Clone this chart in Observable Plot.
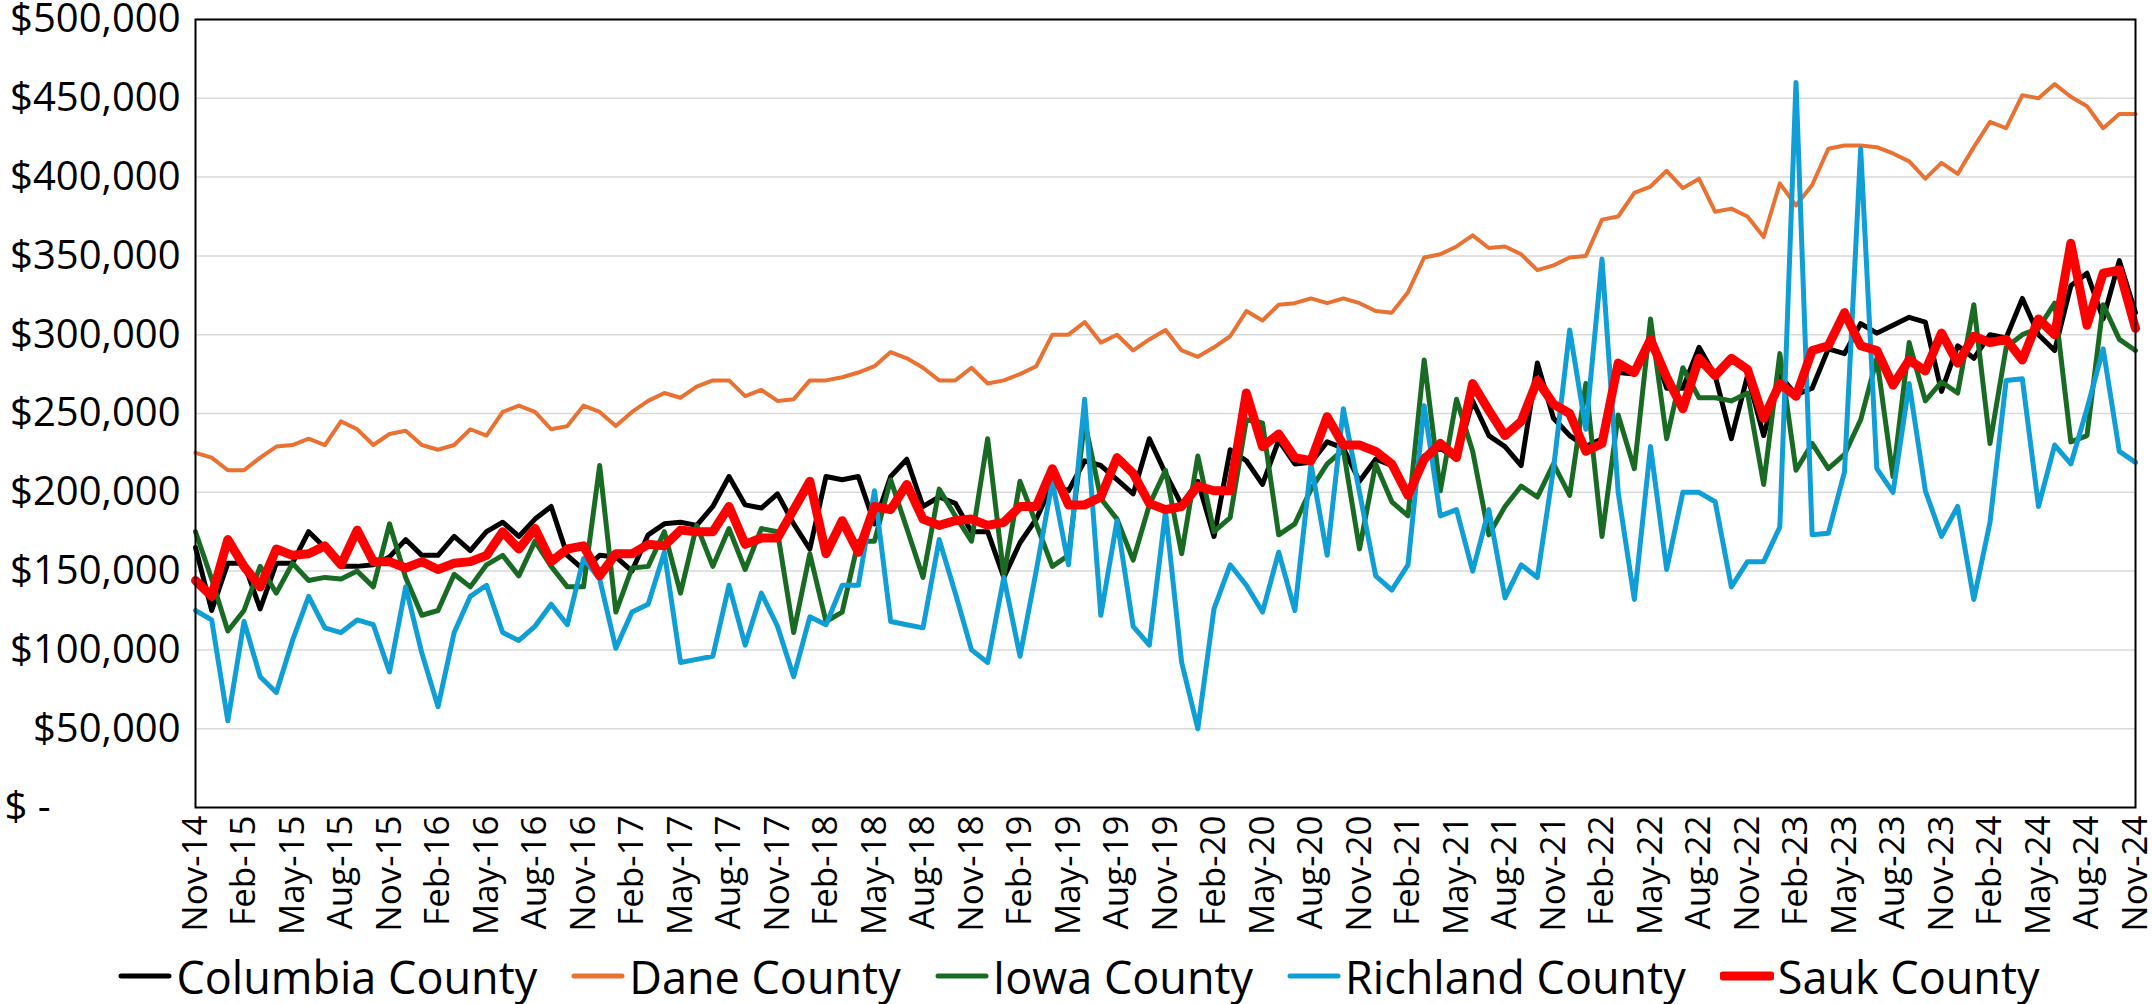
<!DOCTYPE html>
<html>
<head>
<meta charset="utf-8">
<script src="https://cdn.jsdelivr.net/npm/d3@7"></script>
<script src="https://cdn.jsdelivr.net/npm/@observablehq/plot@0.6"></script>
<style>
  html, body { margin: 0; padding: 0; background: #fff; }
  body { width: 2152px; height: 1004px; overflow: hidden; font-family: "Open Sans", "Liberation Sans", sans-serif; }
  #chart svg { overflow: visible; }
  #legend { display: flex; justify-content: center; align-items: center; height: 56px; gap: 34px; font-size: 45px; color: #000; padding-left: 6px; }
  .item { display: flex; align-items: center; gap: 4px; }
</style>
</head>
<body>
<div id="chart"></div>
<div id="legend"></div>
<script>
// Median sale price by month, Nov-14 .. Nov-24 (values in thousands of dollars)
const firstMonth = [2014, 10]; // Nov 2014 (UTC year, month index)
const seriesNames = ["Columbia County", "Dane County", "Iowa County", "Richland County", "Sauk County"];
const seriesColors = ["#000000", "#E97132", "#196B24", "#0F9ED5", "#FF0000"];
const seriesWidths = [5, 4, 5, 5, 9];

const columbia = [165,125,155,155,126,155,155,175,165,153,153,154,159,170,160,160,172,163,175,181,172,183,191,160,151,160,159,150,173,180,181,179,191,210,192,190,199,180,164,210,208,210,180,210,221,191,197,193,175,175,146,168,183,205,201,220,217,208,199,234,212,192,207,172,227,220,205,233,218,219,232,228,207,221,217,199,223,228,221,258,236,229,217,282,247,236,229,234,276,275,297,266,266,292,274,234,274,236,274,262,266,291,288,307,301,306,311,308,264,293,285,300,298,323,300,290,331,339,310,347,314];
const dane = [225,222,214,214,222,229,230,234,230,245,240,230,237,239,230,227,230,240,236,251,255,251,240,242,255,251,242,251,258,263,260,267,271,271,261,265,258,259,271,271,273,276,280,289,285,279,271,271,279,269,271,275,280,300,300,308,295,300,290,297,303,290,286,292,299,315,309,319,320,323,320,323,320,315,314,327,349,351,356,363,355,356,351,341,344,349,350,373,375,390,394,404,393,399,378,380,375,362,396,382,395,418,420,420,419,415,410,399,409,402,419,435,431,452,450,459,451,445,431,440,440];
const iowa = [175,145,112,125,153,136,155,144,146,145,150,140,180,146,122,125,148,140,154,160,147,169,153,140,140,217,124,152,153,175,136,179,153,177,151,177,175,111,161,118,124,169,169,208,177,146,202,185,169,234,147,207,180,153,160,245,196,183,157,192,214,161,223,175,184,246,244,173,180,202,218,227,164,218,194,185,284,201,259,226,173,191,204,197,218,198,269,172,249,215,310,234,279,260,260,258,263,205,288,214,231,215,224,246,285,210,295,258,270,263,319,231,292,300,304,320,232,236,319,297,290];
const richland = [125,119,55,118,83,73,106,134,114,111,119,116,86,140,98,64,111,134,141,111,106,115,129,116,158,145,101,124,129,162,92,94,96,141,103,136,115,83,121,116,141,141,201,118,116,114,170,136,100,92,146,96,150,207,154,259,122,182,115,103,188,92,50,126,154,141,124,162,125,218,160,253,200,147,138,154,255,185,189,150,189,133,154,146,215,303,240,348,200,132,229,151,200,200,194,140,156,156,178,460,173,174,213,418,215,200,269,201,172,191,132,181,271,272,191,230,218,253,291,226,219];
const sauk = [144,134,170,153,140,164,160,161,166,154,176,156,156,152,156,151,155,156,160,175,164,177,156,164,166,147,161,161,167,166,176,175,175,191,167,171,171,189,207,161,182,162,191,189,205,183,179,182,183,179,181,191,191,215,192,192,197,222,212,193,189,191,204,201,201,263,229,237,222,220,248,230,230,226,218,198,221,231,222,269,252,236,245,271,256,250,226,231,282,276,297,273,253,285,274,285,278,247,269,261,290,293,314,293,290,268,284,277,301,282,299,295,297,284,310,300,358,306,339,341,304];

const yTicks = [0, 50000, 100000, 150000, 200000, 250000, 300000, 350000, 400000, 450000, 500000];

const seriesValues = [columbia, dane, iowa, richland, sauk];
const fmtMonth = d3.utcFormat("%b-%y");
const monthLabels = columbia.map((_, i) => fmtMonth(new Date(Date.UTC(firstMonth[0], firstMonth[1] + i, 1))));
const xTicks = monthLabels.map((_, i) => i).filter(i => i % 3 === 0);

const rows = [];
seriesNames.forEach((name, s) => {
  seriesValues[s].forEach((v, i) => rows.push({ series: name, i, value: v * 1000 }));
});

const fmtY = d => "$" + d3.format(",")(d);

const chart = Plot.plot({
  width: 2152,
  height: 948,
  marginTop: 19,
  marginBottom: 141,
  marginLeft: 195,
  marginRight: 17,
  style: { fontFamily: "'Open Sans', 'Liberation Sans', sans-serif", fontSize: "35px", color: "#000", background: "#fff", overflow: "visible" },
  x: { type: "linear", domain: [0, monthLabels.length - 1] },
  y: { domain: [0, 500000] },
  marks: [
    Plot.ruleY(yTicks.filter(d => d > 0), { stroke: "#d9d9d9", strokeWidth: 1.5 }),
    Plot.axisY(yTicks.filter(d => d > 0), { tickSize: 0, tickPadding: 15, tickFormat: fmtY, fontSize: 40, label: null }),
    // zero label in accounting style, flush left
    Plot.text([0], { y: d => d, text: () => "$\u00a0-", frameAnchor: "left", dx: -191, textAnchor: "start", fontSize: 40, fill: "#000" }),
    Plot.axisX(xTicks, { tickSize: 0, tickPadding: 8, tickRotate: -90, tickFormat: i => monthLabels[i], fontSize: 35, label: null }),
    ...seriesNames.map((name, s) => Plot.line(rows.filter(r => r.series === name), {
      x: "i", y: "value", stroke: seriesColors[s], strokeWidth: seriesWidths[s],
      strokeLinejoin: "round", strokeLinecap: "round"
    })),
    Plot.frame({ stroke: "#000", strokeWidth: 2 })
  ]
});
document.getElementById("chart").appendChild(chart);

const legend = document.getElementById("legend");
seriesNames.forEach((name, s) => {
  const item = document.createElement("div");
  item.className = "item";
  item.innerHTML = `<svg width="54" height="14"><line x1="3" y1="7" x2="51" y2="7" stroke="${seriesColors[s]}" stroke-width="${Math.max(5, seriesWidths[s])}" stroke-linecap="round"/></svg><span>${name}</span>`;
  legend.appendChild(item);
});
</script>
</body>
</html>
